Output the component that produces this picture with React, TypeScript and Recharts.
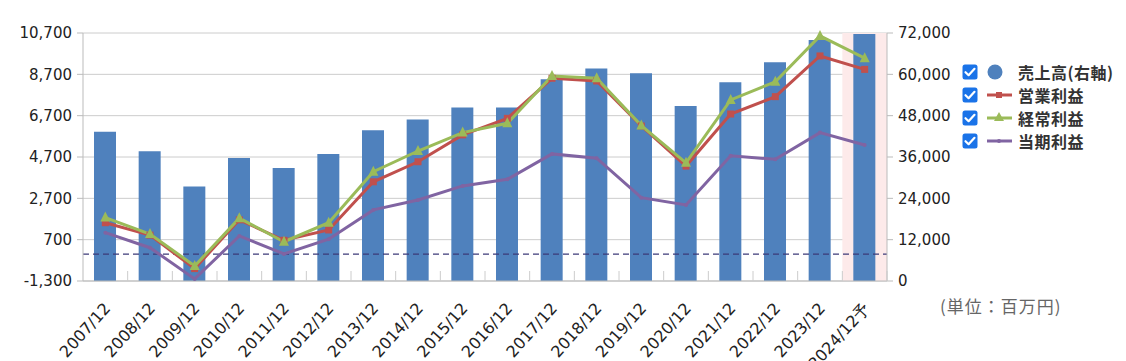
import React from 'react';
import {
  ComposedChart, Bar, Line, XAxis, YAxis, CartesianGrid, ReferenceLine, ReferenceArea, Legend,
} from 'recharts';

const categories = [
  '2007/12', '2008/12', '2009/12', '2010/12', '2011/12', '2012/12', '2013/12', '2014/12', '2015/12',
  '2016/12', '2017/12', '2018/12', '2019/12', '2020/12', '2021/12', '2022/12', '2023/12', '2024/12予',
];
const sales = [43300, 37700, 27400, 35700, 32800, 36900, 43800, 46900, 50400, 50400, 58600, 61700, 60300, 50800, 57700, 63500, 70000, 71700];
const operatingProfit = [1520, 920, -700, 1660, 670, 1170, 3500, 4470, 5770, 6570, 8510, 8380, 6200, 4260, 6780, 7620, 9590, 8940];
const ordinaryProfit = [1770, 970, -570, 1740, 600, 1520, 3990, 4990, 5880, 6330, 8620, 8510, 6220, 4420, 7460, 8340, 10560, 9480];
const netProfit = [1040, 310, -1200, 880, 10, 720, 2140, 2620, 3300, 3620, 4850, 4640, 2730, 2380, 4760, 4590, 5880, 5280];

const leftTicks = [-1300, 700, 2700, 4700, 6700, 8700, 10700];
const rightTicks = [0, 12000, 24000, 36000, 48000, 60000, 72000];

const seriesNames = ['売上高(右軸)', '営業利益', '経常利益', '当期利益'];
const unitLabel = '(単位：百万円)';
const colors = ['#4f81bd', '#c0504d', '#9bbb59', '#8064a2'];

const data = categories.map((c, i) => ({
  name: c,
  sales: sales[i],
  op: operatingProfit[i],
  ord: ordinaryProfit[i],
  net: netProfit[i],
}));

const W = 1110;
const H = 353;
const M = { top: 25, right: 151, bottom: 0, left: 0 };
const LEFT_W = 75;
const RIGHT_W = 80;
const XH = 80;
const PLOT_W = W - M.left - M.right - LEFT_W - RIGHT_W;
const HALF = PLOT_W / categories.length / 2;

const FONT = '"DejaVu Sans", Verdana, sans-serif';
const CJK = '"Noto Sans CJK JP", "Noto Sans", sans-serif';

const fmt = (v: number) => v.toLocaleString('en-US');

const XTick = (props: any) => {
  const { x, y, payload } = props;
  return (
    <g>
      <line x1={x + HALF} x2={x + HALF} y1={y} y2={y - 10} stroke="#cccccc" strokeWidth={1} />
      <text
        x={0}
        y={0}
        transform={`translate(${x + 6},${y + 28}) rotate(-48)`}
        textAnchor="end"
        fontSize={16}
        fontFamily={FONT}
        fill="#222"
      >
        {payload.value}
      </text>
    </g>
  );
};

const SquareDot = (props: any) => {
  const { cx, cy, index } = props;
  if (cx == null || cy == null) return <g key={`s${index}`} />;
  return <rect key={`s${index}`} x={cx - 3.5} y={cy - 3.5} width={7} height={7} fill={colors[1]} />;
};
const TriDot = (props: any) => {
  const { cx, cy, index } = props;
  if (cx == null || cy == null) return <g key={`t${index}`} />;
  return <polygon key={`t${index}`} points={`${cx},${cy - 6} ${cx - 5},${cy + 4} ${cx + 5},${cy + 4}`} fill={colors[2]} />;
};
const SmallDot = (props: any) => {
  const { cx, cy, index } = props;
  if (cx == null || cy == null) return <g key={`d${index}`} />;
  return <circle key={`d${index}`} cx={cx} cy={cy} r={2} fill={colors[3]} />;
};

const CheckBox = () => (
  <svg width={16} height={16} style={{ display: 'block' }}>
    <rect x={0.5} y={0.5} width={15} height={15} rx={2.5} fill="#1a73e8" />
    <path d="M3.5 8.2 L6.6 11.2 L12.5 4.8" stroke="#fff" strokeWidth={2.2} fill="none" strokeLinecap="round" strokeLinejoin="round" />
  </svg>
);

const Marker = ({ i }: { i: number }) => (
  <svg width={28} height={16} style={{ display: 'block' }}>
    {i === 0 ? (
      <circle cx={9} cy={8} r={7.5} fill={colors[0]} />
    ) : (
      <g>
        <line x1={1} x2={26} y1={8} y2={8} stroke={colors[i]} strokeWidth={3} />
        {i === 1 && <rect x={10} y={5} width={6} height={6} fill={colors[1]} />}
        {i === 2 && <polygon points="13,2 8,11 18,11" fill={colors[2]} />}
        {i === 3 && <circle cx={13} cy={8} r={2} fill={colors[3]} />}
      </g>
    )}
  </svg>
);

const LegendContent = () => (
  <div style={{ display: 'flex', flexDirection: 'column' }}>
    {seriesNames.map((n, i) => (
      <div key={n} style={{ display: 'flex', alignItems: 'center', height: 23 }}>
        <CheckBox />
        <div style={{ width: 8 }} />
        <Marker i={i} />
        <div style={{ width: 4 }} />
        <span style={{ fontFamily: CJK, fontWeight: 700, fontSize: 16, letterSpacing: 0.5, color: '#333', whiteSpace: 'nowrap' }}>{n}</span>
      </div>
    ))}
  </div>
);

export default function App() {
  return (
    <div style={{ position: 'relative', width: W, height: H }}>
      <ComposedChart width={W} height={H} data={data} margin={M}>
        <CartesianGrid vertical={false} stroke="#cccccc" yAxisId="left" />
        <XAxis
          dataKey="name"
          height={XH}
          interval={0}
          tick={<XTick />}
          tickLine={false}
          tickSize={0}
          tickMargin={0}
          axisLine={{ stroke: '#bbbbbb' }}
        />
        <YAxis
          yAxisId="left"
          orientation="left"
          width={LEFT_W}
          domain={[-1300, 10700]}
          ticks={leftTicks}
          interval={0}
          tickFormatter={fmt}
          axisLine={{ stroke: '#bbbbbb' }}
          tickLine={{ stroke: '#bbbbbb' }}
          tickSize={6}
          tickMargin={5}
          tick={{ fontSize: 15, fontFamily: FONT, fill: '#222' }}
        />
        <YAxis
          yAxisId="right"
          orientation="right"
          width={RIGHT_W}
          domain={[0, 72000]}
          ticks={rightTicks}
          interval={0}
          tickFormatter={fmt}
          axisLine={{ stroke: '#bbbbbb' }}
          tickLine={{ stroke: '#bbbbbb' }}
          tickSize={6}
          tickMargin={5}
          tick={{ fontSize: 15, fontFamily: FONT, fill: '#222' }}
        />
        <ReferenceArea
          yAxisId="left"
          x1={categories[categories.length - 1]}
          x2={categories[categories.length - 1]}
          fill="#fdeaea"
          fillOpacity={1}
          stroke="none"
        />
        <Bar yAxisId="right" dataKey="sales" name={seriesNames[0]} fill={colors[0]} barSize={22} isAnimationActive={false} />
        <ReferenceLine yAxisId="left" y={0} stroke="#3d3a78" strokeDasharray="6 4" strokeWidth={1.3} />
        <Line yAxisId="left" dataKey="op" name={seriesNames[1]} stroke={colors[1]} strokeWidth={3} dot={<SquareDot />} activeDot={false} isAnimationActive={false} />
        <Line yAxisId="left" dataKey="ord" name={seriesNames[2]} stroke={colors[2]} strokeWidth={3} dot={<TriDot />} activeDot={false} isAnimationActive={false} />
        <Line yAxisId="left" dataKey="net" name={seriesNames[3]} stroke={colors[3]} strokeWidth={3} dot={<SmallDot />} activeDot={false} isAnimationActive={false} />
        <Legend
          layout="horizontal"
          verticalAlign="middle"
          align="center"
          content={<LegendContent />}
          wrapperStyle={{ position: 'absolute', left: 954, top: 52, width: 170, height: 95 }}
        />
      </ComposedChart>
      <div
        style={{
          position: 'absolute', left: 932, top: 285, fontFamily: CJK, fontSize: 17, letterSpacing: 1, color: '#666', whiteSpace: 'nowrap',
        }}
      >
        {unitLabel}
      </div>
    </div>
  );
}
